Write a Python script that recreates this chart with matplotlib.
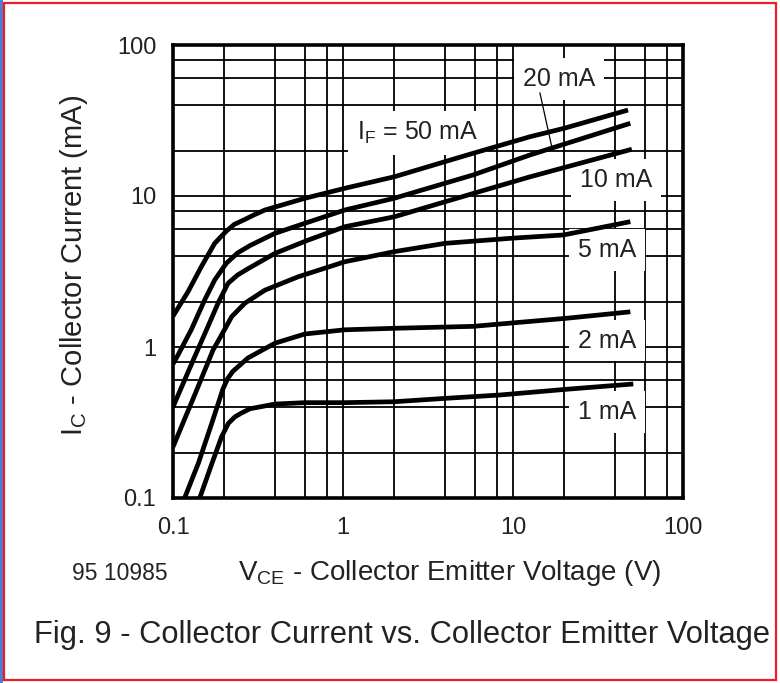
import matplotlib.pyplot as plt
from matplotlib.patches import Rectangle
from matplotlib.ticker import FixedLocator, NullFormatter

plt.rcParams['font.family'] = ['Liberation Sans', 'DejaVu Sans']
plt.rcParams['mathtext.fontset'] = 'custom'
plt.rcParams['mathtext.rm'] = 'Liberation Sans'

# curves: VCE (V) -> IC (mA), one pair per IF
vce_50 = [0.1, 0.1225, 0.1467, 0.1759, 0.2058, 0.23, 0.265, 0.3, 0.3475, 0.5975, 1.026, 2.0, 5.84, 12.6, 19.8, 47.5]
ic_50 = [1.60, 2.32, 3.40, 4.86, 5.85, 6.5, 7.0, 7.5, 8.08, 9.66, 11.25, 13.4, 19.2, 24.7, 28.0, 37.1]

vce_20 = [0.1, 0.107, 0.128, 0.1536, 0.1759, 0.2058, 0.24, 0.284, 0.398, 0.5975, 1.026, 2.0, 5.84, 12.6, 49.0]
ic_20 = [0.772, 0.885, 1.30, 2.05, 2.78, 3.58, 4.2, 4.70, 5.66, 6.60, 8.08, 9.66, 13.8, 18.7, 30.3]

vce_10 = [0.1, 0.134, 0.1607, 0.184, 0.2106, 0.24, 0.2762, 0.398, 0.625, 1.026, 2.0, 5.84, 12.6, 50.0]
ic_10 = [0.401, 0.86, 1.37, 1.95, 2.64, 3.0, 3.30, 4.17, 5.11, 6.26, 7.28, 10.4, 13.4, 20.4]

vce_5 = [0.1, 0.134, 0.172, 0.1889, 0.2215, 0.2648, 0.3475, 0.5458, 1.026, 2.0, 4.0, 10.0, 19.8, 49.0]
ic_5 = [0.218, 0.48, 0.955, 1.15, 1.59, 1.95, 2.38, 2.92, 3.67, 4.28, 4.86, 5.26, 5.52, 6.76]

vce_2 = [0.117, 0.141, 0.169, 0.197, 0.21, 0.225, 0.276, 0.398, 0.5975, 1.026, 2.0, 5.84, 8.38, 20.7, 49.0]
ic_2 = [0.1, 0.170, 0.312, 0.53, 0.62, 0.69, 0.846, 1.06, 1.22, 1.30, 1.33, 1.37, 1.42, 1.55, 1.71]

vce_1 = [0.1436, 0.1696, 0.1933, 0.2116, 0.2316, 0.2536, 0.2838, 0.398, 0.5975, 1.026, 2.0, 4.0, 8.38, 20.7, 51.0]
ic_1 = [0.1, 0.170, 0.255, 0.312, 0.345, 0.366, 0.39, 0.419, 0.428, 0.428, 0.434, 0.457, 0.481, 0.525, 0.569]

curves = [(vce_50, ic_50), (vce_20, ic_20), (vce_10, ic_10),
          (vce_5, ic_5), (vce_2, ic_2), (vce_1, ic_1)]

labels = ['20 mA', '10 mA', '5 mA', '2 mA', '1 mA']
label_x = [18.6, 40.4, 35.7, 35.7, 35.7]
label_y = [59.6, 12.8, 4.39, 1.10, 0.372]

grid_vals = [0.2, 0.4, 0.6, 0.8, 1, 2, 4, 6, 8, 10, 20, 40, 60, 80]
grid_vals_y = [0.2, 0.4, 0.6, 0.8, 1, 2, 4, 6, 8, 10, 20, 40, 60, 80]


def main():
    fig = plt.figure(figsize=(7.8, 6.83), dpi=100)
    ax = fig.add_axes([173 / 780, 1 - 498 / 683, 510 / 780, 453 / 683])

    ax.set_xscale('log')
    ax.set_yscale('log')
    ax.set_xlim(0.1, 100)
    ax.set_ylim(0.1, 100)

    ax.set_xticks([0.1, 1, 10, 100])
    ax.set_xticklabels(['0.1', '1', '10', '100'])
    ax.set_yticks([0.1, 1, 10, 100])
    ax.set_yticklabels(['0.1', '1', '10', '100'])
    ax.xaxis.set_minor_locator(FixedLocator(grid_vals))
    ax.yaxis.set_minor_locator(FixedLocator(grid_vals_y))
    ax.xaxis.set_minor_formatter(NullFormatter())
    ax.yaxis.set_minor_formatter(NullFormatter())
    ax.tick_params(which='both', length=0, labelsize=17, colors='#222222')
    ax.tick_params(axis='x', pad=14)
    ax.tick_params(axis='y', pad=12)
    ax.set_axisbelow(True)
    ax.grid(which='both', color='black', lw=1.3)
    for s in ax.spines.values():
        s.set_linewidth(2.6)

    for v, i in curves:
        ax.plot(v, i, color='black', lw=3.4, solid_capstyle='butt',
                solid_joinstyle='round', zorder=4)

    box = dict(boxstyle='square,pad=0.35', fc='white', ec='none')
    for t, x, y in zip(labels, label_x, label_y):
        ax.text(x, y, t, ha='center', va='center', fontsize=18, color='#222222',
                bbox=box, zorder=3)
    ax.text(1.21, 26.1, r'I$_{\mathregular{F}}$ = 50 mA', ha='left', va='center',
            fontsize=18, color='#222222', bbox=box, zorder=3)
    ax.plot([14.4, 16.9], [48.1, 21.2], color='black', lw=0.9, zorder=4)

    fig.text(74 / 780, 1 - 265 / 683, r'I$_{\mathregular{C}}$ - Collector Current (mA)',
             rotation=90, ha='center', va='center', fontsize=21, color='#222222')
    fig.text(450 / 780, 1 - 580 / 683, r'V$_{\mathregular{CE}}$ - Collector Emitter Voltage (V)',
             ha='center', va='baseline', fontsize=20, color='#222222')
    fig.text(72 / 780, 1 - 580 / 683, '95 10985', ha='left', va='baseline',
             fontsize=16.5, color='#222222')
    fig.text(402 / 780, 1 - 643 / 683, 'Fig. 9 - Collector Current vs. Collector Emitter Voltage',
             ha='center', va='baseline', fontsize=22.2, color='#222222')

    # page frame
    fig.add_artist(Rectangle((0, 0), 3 / 780, 1, transform=fig.transFigure,
                             fc='#4a7fd4', ec='none'))
    fig.add_artist(Rectangle((4 / 780, 3 / 683), 772 / 780, 677 / 683,
                             transform=fig.transFigure, fill=False, ec='#ee1c24', lw=1.6))

    fig.savefig('out.png', dpi=100)


if __name__ == "__main__":
    main()
